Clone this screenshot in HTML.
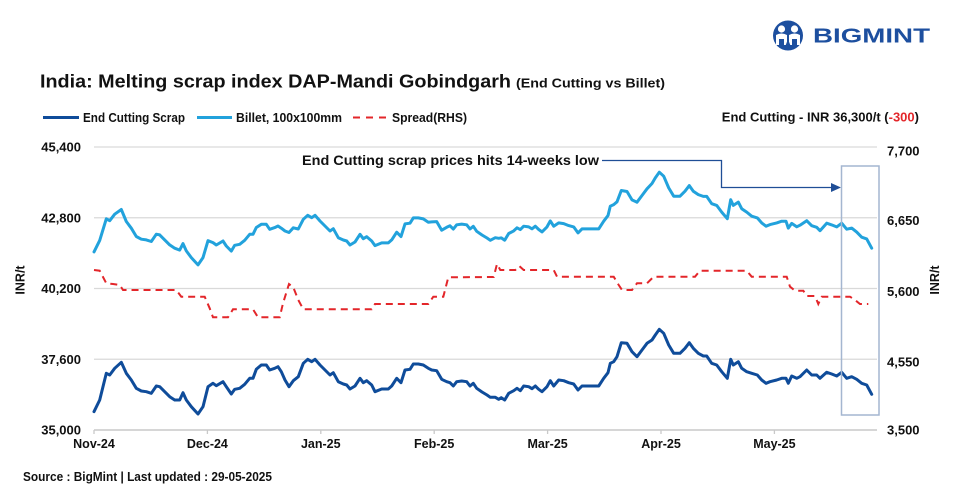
<!DOCTYPE html>
<html><head><meta charset="utf-8"><style>
html,body{margin:0;padding:0;background:#fff;}
svg{display:block;font-family:"Liberation Sans",Arial,sans-serif;}
</style></head><body>
<svg id="c" width="960" height="496" viewBox="0 0 960 496" xmlns="http://www.w3.org/2000/svg">
<rect width="960" height="496" fill="#fff"/>
<!-- logo -->
<circle cx="788" cy="35.5" r="15" fill="#1d4f9f"/>
<circle cx="781.5" cy="29" r="3.6" fill="#fff"/>
<circle cx="794.5" cy="29" r="3.6" fill="#fff"/>
<path d="M776,35 q5.5,-3 11,0 v10 h-3 v-6 h-5 v6 h-3z" fill="#fff"/>
<path d="M789,35 q5.5,-3 11,0 v10 h-3 v-6 h-5 v6 h-3z" fill="#fff"/>
<path d="M785,47 l3,-8 l3,8z" fill="#1d4f9f"/>
<text x="813" y="42.5" font-size="20" font-weight="bold" fill="#1d4f9f" textLength="117" lengthAdjust="spacingAndGlyphs">BIGMINT</text>
<!-- title -->
<text x="40" y="87.5" font-size="18.5" font-weight="bold" fill="#111" textLength="471" lengthAdjust="spacingAndGlyphs">India: Melting scrap index DAP-Mandi Gobindgarh</text>
<text x="516" y="87.5" font-size="13" font-weight="bold" fill="#111" textLength="149" lengthAdjust="spacingAndGlyphs">(End Cutting vs Billet)</text>
<!-- legend -->
<line x1="43" y1="117.5" x2="79" y2="117.5" stroke="#0f4c9a" stroke-width="3"/>
<text x="83" y="122" font-size="13" font-weight="bold" fill="#111" textLength="102" lengthAdjust="spacingAndGlyphs">End Cutting Scrap</text>
<line x1="197" y1="117.5" x2="232" y2="117.5" stroke="#22a2dc" stroke-width="3"/>
<text x="236" y="122" font-size="13" font-weight="bold" fill="#111" textLength="106" lengthAdjust="spacingAndGlyphs">Billet, 100x100mm</text>
<line x1="353" y1="117.5" x2="387" y2="117.5" stroke="#e3262a" stroke-width="2" stroke-dasharray="7,6"/>
<text x="392" y="122" font-size="13" font-weight="bold" fill="#111" textLength="75" lengthAdjust="spacingAndGlyphs">Spread(RHS)</text>
<text x="919" y="121.5" font-size="13" font-weight="bold" fill="#111" text-anchor="end">End Cutting - INR 36,300/t (<tspan fill="#e3262a">-300</tspan>)</text>
<!-- grid -->
<g stroke="#d9d9d9" stroke-width="1.3">
<line x1="94" y1="147" x2="877" y2="147"/>
<line x1="94" y1="217.75" x2="877" y2="217.75"/>
<line x1="94" y1="288.5" x2="877" y2="288.5"/>
<line x1="94" y1="359.25" x2="877" y2="359.25"/>
</g>
<line x1="94" y1="430" x2="877" y2="430" stroke="#c9c9c9" stroke-width="1.5"/>
<g stroke="#c9c9c9" stroke-width="1.3">
<line x1="94" y1="430" x2="94" y2="434"/>
<line x1="207.4" y1="430" x2="207.4" y2="434"/>
<line x1="320.8" y1="430" x2="320.8" y2="434"/>
<line x1="434.2" y1="430" x2="434.2" y2="434"/>
<line x1="547.6" y1="430" x2="547.6" y2="434"/>
<line x1="661" y1="430" x2="661" y2="434"/>
<line x1="774.4" y1="430" x2="774.4" y2="434"/>
</g>
<!-- axis labels -->
<g font-size="13" font-weight="bold" fill="#111" text-anchor="end">
<text x="81" y="151.5">45,400</text>
<text x="81" y="222.5">42,800</text>
<text x="81" y="293">40,200</text>
<text x="81" y="364">37,600</text>
<text x="81" y="434.5">35,000</text>
</g>
<g font-size="13" font-weight="bold" fill="#111">
<text x="887" y="155.5">7,700</text>
<text x="887" y="225">6,650</text>
<text x="887" y="296">5,600</text>
<text x="887" y="366.5">4,550</text>
<text x="887" y="434.5">3,500</text>
</g>
<g font-size="12.5" font-weight="bold" fill="#111" text-anchor="middle">
<text x="94" y="448">Nov-24</text>
<text x="207.4" y="448">Dec-24</text>
<text x="320.8" y="448">Jan-25</text>
<text x="434.2" y="448">Feb-25</text>
<text x="547.6" y="448">Mar-25</text>
<text x="661" y="448">Apr-25</text>
<text x="774.4" y="448">May-25</text>
</g>
<text transform="translate(24.5,280) rotate(-90)" font-size="12.5" font-weight="bold" fill="#111" text-anchor="middle">INR/t</text>
<text transform="translate(939,280) rotate(-90)" font-size="12.5" font-weight="bold" fill="#111" text-anchor="middle">INR/t</text>
<!-- series -->
<polyline id="spread" fill="none" stroke="#e3262a" stroke-width="2" stroke-dasharray="7,5" points="94,270 99.7,270.7 106.3,283.3 113,284 119.7,285 123,290 176.3,290 181.3,296.7 204.7,296.7 209.7,308.3 213,317.3 228,317.3 233,309.3 253,309.3 258,317.3 279.7,317.3 283,303.3 289,284 293.3,287.3 298.3,300 303.3,309.3 371.7,309.3 375,304 428.3,304 433.3,296.7 443.3,296.7 448.3,277.3 493.7,277 497,264 500.3,270 515.3,270 519.3,266 523.7,270 553.7,270 557,276.7 613.7,276.7 618.7,285 622,290 632,290 637,283.3 647,283.3 653.7,276.7 695,276.7 700,270.7 746.7,270.7 751.7,276.7 786.7,276.7 790,286.7 795,290.7 803.3,290.7 806.7,296 815,296 818.3,304 821.7,296.7 850,296.7 855,300 860,304 868.3,304"/>
<polyline id="billet" fill="none" stroke="#22a2dc" stroke-width="3" stroke-linejoin="round" stroke-linecap="round" points=""/>
<polyline id="scrap" fill="none" stroke="#0f4c9a" stroke-width="3" stroke-linejoin="round" stroke-linecap="round" points="94,411.7 99.7,400 106.3,373.3 109.7,375 114.7,368.3 121.3,362.3 126.3,373.3 131.3,380 136.3,388.3 141.3,391 146.3,391.7 151.3,393.3 156.3,386 159.7,386.7 164.7,391.7 169.7,396.7 174.7,400 179.7,400 183,392.7 186.3,400 191.3,406.7 198,414 203,406.7 208,386.7 213,383.3 216.3,385.7 223,381.7 226.3,386.7 231.3,394 234.7,389.3 239.7,388.3 244.7,384.3 249.7,378.3 253,378.3 256.3,369.3 261.3,365 266.3,365 269.7,370 274.7,368.3 278,366.7 281.3,371.7 285,380 289,386.7 293.3,380.7 298.3,376.7 303.3,363.3 307.7,359.3 311.7,361.7 315,359.3 320,365 325,370 330,375 333.3,372.7 338.3,381.7 343.3,384 346.7,385 350,389 355,386 360,378.3 363.3,382.7 366.7,380.7 371.7,385 375,391.7 381.7,389 388.3,389 391.7,386 396.7,378.3 401,382.7 405,370 410,369.3 413.3,364 418.3,364 423.3,365 428.3,368.3 431.7,370 436.7,370.7 441.7,379.3 446.7,381.7 450,382.7 453.3,386 456.7,381.7 461.7,381 466.7,381.7 470,386 473.3,383.3 476.7,388.3 482,392 487,395 490.3,397.3 495.3,397.3 498.7,399.3 501.3,397.7 504.7,400 508.7,393.3 513.7,390.7 517,388.3 520.3,390.7 523.7,386 528.7,386.7 532,388.7 535.3,386 538.7,389.3 542,391.7 547,386.7 550.3,380.7 553.7,386 558.7,380 563.7,380.7 568.7,382.7 573.7,384 578,390 582,386 588.7,386 598.7,386 603.7,378.3 608,372.7 610.3,363.3 613.7,361.7 617,356.7 621.3,342.7 627,343.3 632,351.7 637,356.7 642,350 647,343.3 652,340 655.3,335 659.3,329.3 663.7,333.3 668.7,345 673.7,353.3 680,353.3 685,348.3 689.3,342.7 693.3,348.3 698.3,353.3 703.3,356 706.7,356 711.7,363.3 716.7,365 721.7,371.7 727.3,378.3 730.7,359.3 733.3,365 738.3,361.7 741.7,368.3 746.7,371.7 751.7,373.3 757.3,375 761.7,380 766,383.3 770,381.7 776.7,380 781.7,378.3 786,378.3 788.3,383.3 791.7,376 796.7,378.3 800,376.7 806.7,370 811.7,375 816.7,375 820,378.3 826.7,372.3 831.7,374 836.7,376 841.7,372.3 846.7,378.3 851.7,376.7 856.7,379.3 861.7,383.3 866.7,385 871.7,394.3"/>
<!-- annotation -->
<text x="302" y="165" font-size="14" font-weight="bold" fill="#111" textLength="297" lengthAdjust="spacingAndGlyphs">End Cutting scrap prices hits 14-weeks low</text>
<path d="M602,160.5 H721.5 V187.5 H834" fill="none" stroke="#1f4e96" stroke-width="1.3"/>
<polygon points="831,183 841,187.5 831,192" fill="#1f4e96"/>
<rect x="841.5" y="166" width="37.5" height="249" fill="none" stroke="#a4b6d0" stroke-width="1.5"/>
<!-- source -->
<text x="23" y="481" font-size="12.5" font-weight="bold" fill="#111" textLength="249" lengthAdjust="spacingAndGlyphs">Source : BigMint | Last updated : 29-05-2025</text>
</svg>
<script>
(function(){
function parse(id){return document.getElementById(id).getAttribute('points').trim().split(/\s+/).map(function(p){var a=p.split(',');return [parseFloat(a[0]),parseFloat(a[1])];});}
var S=parse('scrap'),R=parse('spread');
function interp(x){
 if(x<=R[0][0])return R[0][1];
 if(x>=R[R.length-1][0])return R[R.length-1][1];
 for(var i=1;i<R.length;i++){if(x<=R[i][0]){var a=R[i-1],b=R[i];var t=(x-a[0])/(b[0]-a[0]);return a[1]+t*(b[1]-a[1]);}}
 return R[R.length-1][1];
}
var out=S.map(function(p){var y=p[1]-95.24-0.4038*(430-interp(p[0]));return p[0].toFixed(1)+','+y.toFixed(1);});
document.getElementById('billet').setAttribute('points',out.join(' '));
})();
</script>
</body></html>
